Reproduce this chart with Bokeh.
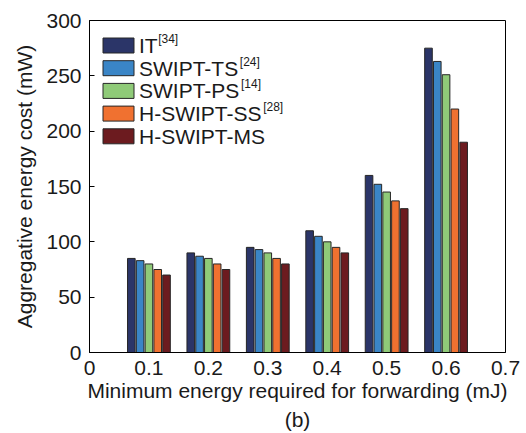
from bokeh.plotting import figure
from bokeh.models import (Range1d, FixedTicker, Label, BoxAnnotation, Title,
                          ColumnDataSource)
from bokeh.transform import dodge
from bokeh.embed import file_html
from bokeh.resources import INLINE

# ---- data ----
x_values = [0.1, 0.2, 0.3, 0.4, 0.5, 0.6]
series_names = ["IT", "SWIPT-TS", "SWIPT-PS", "H-SWIPT-SS", "H-SWIPT-MS"]
series_refs = ["[34]", "[24]", "[14]", "[28]", ""]
it_vals = [85, 90, 95, 110, 160, 275]
ts_vals = [83, 87, 93, 105, 152, 263]
ps_vals = [80, 85, 90, 100, 145, 251]
ss_vals = [75, 80, 85, 95, 137, 220]
ms_vals = [70, 75, 80, 90, 130, 190]
x_ticks = [0, 0.1, 0.2, 0.3, 0.4, 0.5, 0.6, 0.7]
x_tick_labels = ["0", "0.1", "0.2", "0.3", "0.4", "0.5", "0.6", "0.7"]
y_ticks = [0, 50, 100, 150, 200, 250, 300]

colors = ["#2b3568", "#3a85c6", "#8fca78", "#f07130", "#6c1b1f"]
FONT = "Liberation Sans"
FSN = 21
FS = f"{FSN}px"

src = ColumnDataSource(dict(x=x_values, IT=it_vals, TS=ts_vals, PS=ps_vals,
                            SS=ss_vals, MS=ms_vals))
cols = ["IT", "TS", "PS", "SS", "MS"]

p = figure(width=526, height=433, output_backend="svg", toolbar_location=None,
           x_range=Range1d(0, 0.7), y_range=Range1d(0, 300),
           min_border_left=89, min_border_top=20, min_border_right=21,
           min_border_bottom=81)

step = 0.0148
bw = 0.0128
for i, c in enumerate(cols):
    p.vbar(x=dodge("x", (i - 2) * step, range=p.x_range), top=c, width=bw,
           source=src, fill_color=colors[i], line_color="#262626", line_width=1)

p.xgrid.visible = False
p.ygrid.visible = False
p.outline_line_color = "black"
p.outline_line_width = 1

for ax in (p.xaxis[0], p.yaxis[0]):
    ax.axis_line_color = "black"
    ax.major_label_text_font = FONT
    ax.major_label_text_font_size = FS
    ax.major_label_text_color = "#1a1a1a"
    ax.axis_label_text_font = FONT
    ax.axis_label_text_font_size = FS
    ax.axis_label_text_font_style = "normal"
    ax.axis_label_text_color = "#1a1a1a"
    ax.minor_tick_line_color = None

p.xaxis.ticker = FixedTicker(ticks=x_ticks)
p.xaxis.major_label_overrides = {t: l for t, l in zip(x_ticks, x_tick_labels)}
p.xaxis.major_tick_in = 0
p.xaxis.major_tick_out = 0
p.xaxis.major_label_standoff = 8
p.xaxis.axis_label = "Minimum energy required for forwarding (mJ)"
p.xaxis.axis_label_standoff = 1

p.yaxis.ticker = FixedTicker(ticks=y_ticks)
p.yaxis.major_tick_in = 5
p.yaxis.major_tick_out = 0
p.yaxis.major_label_standoff = 8
p.yaxis.axis_label = "Aggregative energy cost (mW)"
p.yaxis.axis_label_standoff = 7

t = Title(text="(b)", align="center", text_font=FONT, text_font_size=FS,
          text_font_style="normal", text_color="#1a1a1a", standoff=3)
p.add_layout(t, "below")

# ---- legend (manual, to allow superscript references) ----
em = {"I": .278, "T": .611, "S": .667, "W": .944, "P": .667, "-": .333,
      "H": .722, "M": .833}
row_top0 = 314.5
row_gap = 22.7
for i, name in enumerate(series_names):
    top = row_top0 - i * row_gap
    p.add_layout(BoxAnnotation(left=13.5, right=44.5, top=top, bottom=top - 15,
                               left_units="screen", right_units="screen",
                               top_units="screen", bottom_units="screen",
                               fill_color=colors[i], fill_alpha=1,
                               line_color="#262626", line_width=1, line_alpha=1))
    p.add_layout(Label(x=49.5, y=top - 7.5, x_units="screen", y_units="screen",
                       text=name, text_font=FONT, text_font_size=FS,
                       text_baseline="middle", text_color="#1a1a1a"))
    if series_refs[i]:
        w = sum(em[ch] for ch in name) * FSN
        p.add_layout(Label(x=49.5 + w + 0.5, y=top + 6, x_units="screen",
                           y_units="screen", text=series_refs[i],
                           text_font=FONT, text_font_size="12px",
                           text_baseline="top", text_color="#1a1a1a"))

open("out.html", "w").write(file_html(p, INLINE))
